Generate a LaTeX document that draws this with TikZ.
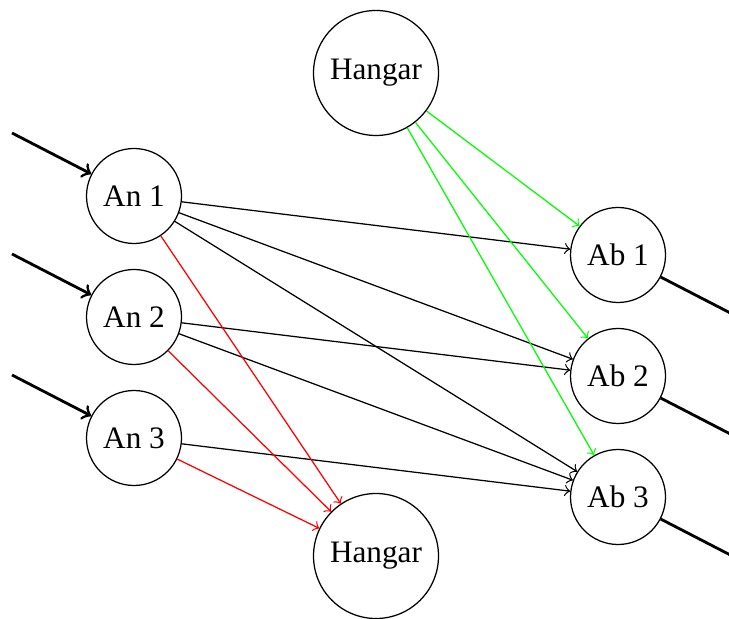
\documentclass[tikz,border=0pt]{standalone}
\usepackage{fontspec}
\setmainfont{Liberation Serif}
\begin{document}
\begin{tikzpicture}[x=0.32pt,y=-0.32pt,
  st/.style={circle,draw,inner sep=0pt,minimum size=30.4pt,font=\fontsize{10}{12}\selectfont},
  hg/.style={circle,draw,inner sep=0pt,minimum size=40pt,font=\fontsize{10}{12}\selectfont},
  io/.style={->,line width=0.9pt},
  tr/.style={->,line width=0.4pt}]
\useasboundingbox (0,0) rectangle (729,619);
\node[hg] (ht) at (376,73) {Hangar};
\node[hg] (hb) at (376,556) {Hangar};
\node[st] (an1) at (134,196) {An 1};
\node[st] (an2) at (134,317) {An 2};
\node[st] (an3) at (134,438) {An 3};
\node[st] (ab1) at (618,255) {Ab 1};
\node[st] (ab2) at (618,376) {Ab 2};
\node[st] (ab3) at (618,497) {Ab 3};
\coordinate (i1) at (12,133);
\coordinate (i2) at (12,254);
\coordinate (i3) at (12,375);
\coordinate (o1) at (740,318);
\coordinate (o2) at (740,439);
\coordinate (o3) at (740,560);
\draw[io] (i1) -- (an1);
\draw[io] (i2) -- (an2);
\draw[io] (i3) -- (an3);
\draw[io] (ab1) -- (o1);
\draw[io] (ab2) -- (o2);
\draw[io] (ab3) -- (o3);
\draw[tr] (an1) -- (ab1);
\draw[tr] (an1) -- (ab2);
\draw[tr] (an1) -- (ab3);
\draw[tr] (an2) -- (ab2);
\draw[tr] (an2) -- (ab3);
\draw[tr] (an3) -- (ab3);
\draw[tr,red] (an1) -- (hb);
\draw[tr,red] (an2) -- (hb);
\draw[tr,red] (an3) -- (hb);
\draw[tr,green] (ht) -- (ab1);
\draw[tr,green] (ht) -- (ab2);
\draw[tr,green] (ht) -- (ab3);
\end{tikzpicture}
\end{document}
